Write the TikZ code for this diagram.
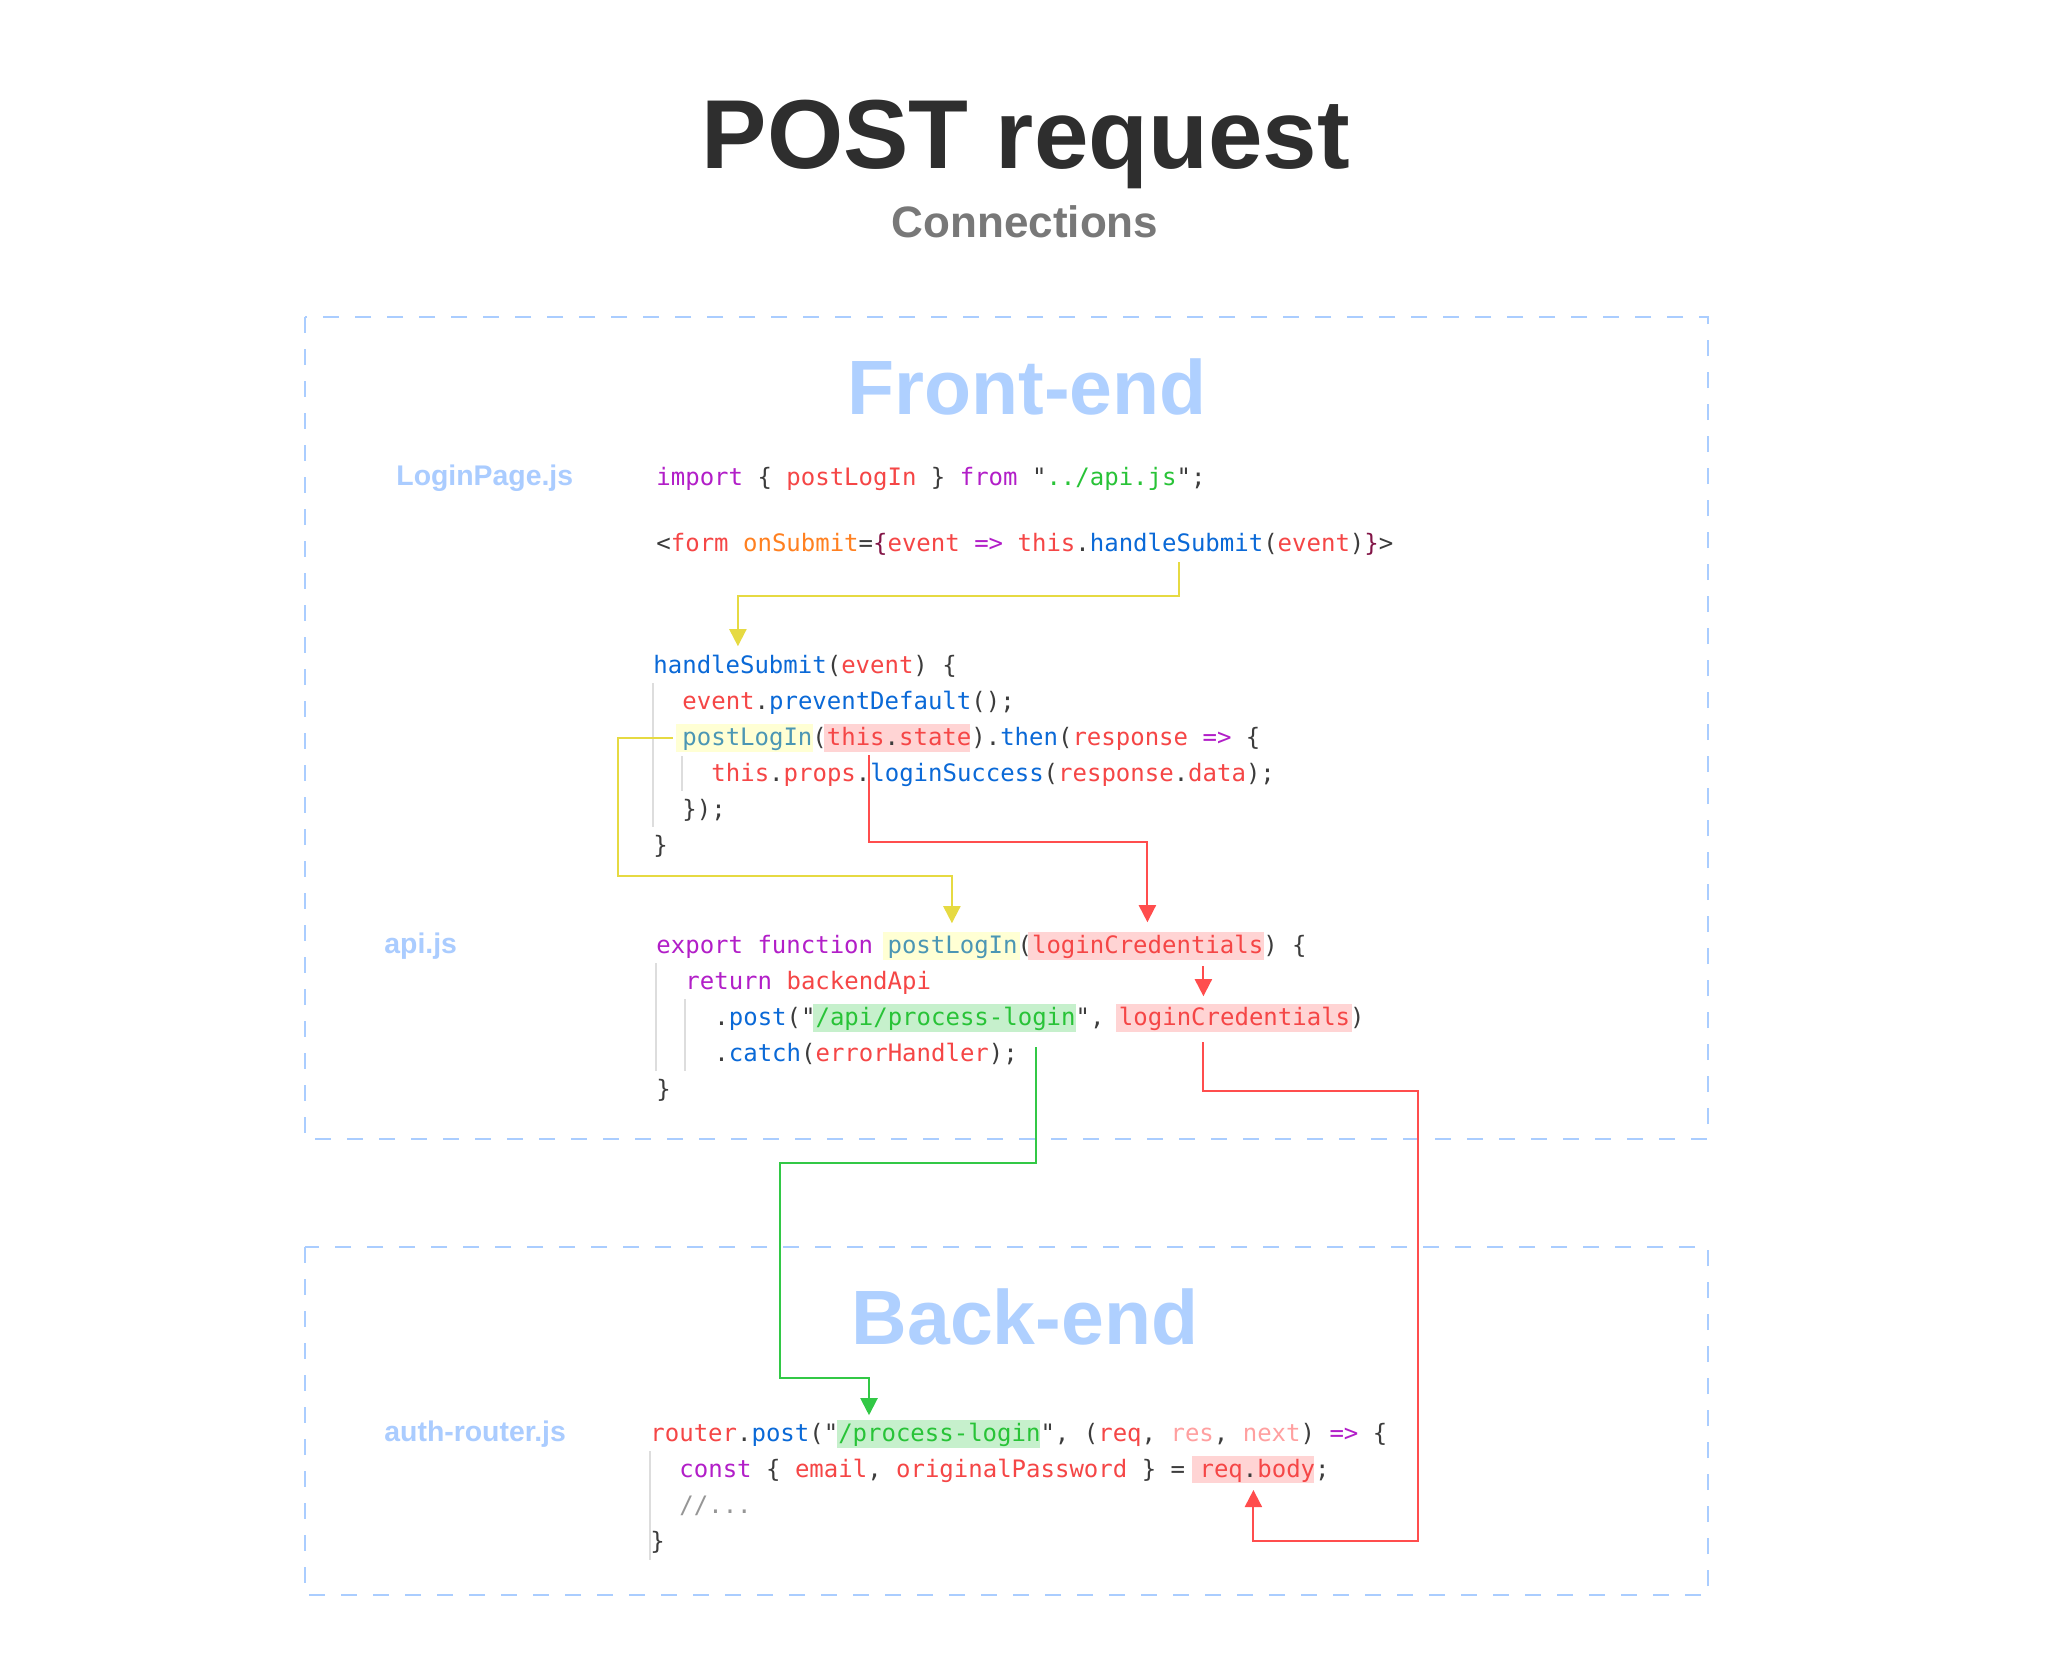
\documentclass[tikz,border=0pt]{standalone}
\usepackage{fontspec}
\setmainfont{Liberation Sans}
\setmonofont{DejaVu Sans Mono}
\usetikzlibrary{arrows.meta,calc}
\definecolor{kwc}{RGB}{178,30,200}
\definecolor{rdc}{RGB}{245,70,70}
\definecolor{blc}{RGB}{10,105,215}
\definecolor{grc}{RGB}{40,195,55}
\definecolor{orc}{RGB}{255,128,32}
\definecolor{tlc}{RGB}{75,150,180}
\definecolor{pnc}{RGB}{60,60,60}
\definecolor{mrc}{RGB}{130,20,70}
\definecolor{pkc}{RGB}{255,160,160}
\definecolor{cmc}{RGB}{150,150,150}
\definecolor{titlec}{RGB}{46,46,46}
\definecolor{subc}{RGB}{120,120,120}
\definecolor{secc}{RGB}{175,208,255}
\definecolor{labc}{RGB}{170,204,255}
\definecolor{framec}{RGB}{170,205,255}
\definecolor{guidec}{RGB}{221,221,221}
\definecolor{hlyc}{RGB}{255,255,212}
\definecolor{hlrc}{RGB}{255,212,212}
\definecolor{hlgc}{RGB}{198,240,204}
\definecolor{lnyel}{RGB}{230,218,66}
\definecolor{lnred}{RGB}{255,77,77}
\definecolor{lngrn}{RGB}{50,200,70}
\newcommand\xKw[1]{\textcolor{kwc}{#1}}
\newcommand\xRd[1]{\textcolor{rdc}{#1}}
\newcommand\xBl[1]{\textcolor{blc}{#1}}
\newcommand\xGr[1]{\textcolor{grc}{#1}}
\newcommand\xOr[1]{\textcolor{orc}{#1}}
\newcommand\xTl[1]{\textcolor{tlc}{#1}}
\newcommand\xMr[1]{\textcolor{mrc}{#1}}
\newcommand\xPk[1]{\textcolor{pkc}{#1}}
\newcommand\xCm[1]{\textcolor{cmc}{#1}}
\begin{document}
\frenchspacing
\begin{tikzpicture}[x=0.5pt,y=-0.5pt,
  code/.style={anchor=base west, inner sep=0, font=\ttfamily\fontsize{12}{14}\selectfont, text=pnc},
  lab/.style={anchor=base west, inner sep=0, font=\bfseries\fontsize{14.2}{16}\selectfont, text=labc},
  sect/.style={anchor=base, inner sep=0, font=\bfseries\fontsize{38.5}{40}\selectfont, text=secc},
  frame/.style={draw=framec, line width=0.9pt, dash pattern=on 8pt off 8pt},
  guide/.style={draw=guidec, line width=1pt},
  hl/.style={anchor=south west, inner sep=0, minimum height=14pt, draw=none},
  tok/.style={anchor=south west, inner sep=0, minimum height=14pt, draw=none},
  conn/.style={line width=1pt, -{Triangle[length=8.5pt,width=8.5pt]}}]
\fill[white] (0,0) rectangle (2048,1666);
\useasboundingbox (0,0) rectangle (2048,1666);

% titles
\node[anchor=base, inner sep=0, font=\bfseries\fontsize{49}{50}\selectfont, text=titlec] (title) at (1026,168) {POST request};
\node[anchor=base, inner sep=0, font=\bfseries\fontsize{22}{24}\selectfont, text=subc] (sub) at (1025,237) {Connections};

% frames
\draw[frame] (305,317) rectangle (1708,1139);
\draw[frame] (305,1247) rectangle (1708,1595);
\node[sect] (fe) at (1027,414) {Front-end};
\node[sect] (be) at (1025,1344) {Back-end};

% file labels
\node[lab] (labLogin) at (396,485) {LoginPage.js};
\node[lab] (labApi) at (384,953) {api.js};
\node[lab] (labRouter) at (384,1441) {auth-router.js};

% highlights
\node[hl, fill=hlyc, minimum width=68.5pt] (hlPost1) at (676,752) {};
\node[hl, fill=hlrc, minimum width=73pt] (hlState) at (824,752) {};
\node[hl, fill=hlyc, minimum width=68.5pt] (hlPost2) at (883,960) {};
\node[hl, fill=hlrc, minimum width=118pt] (hlCred1) at (1028,960) {};
\node[hl, fill=hlgc, minimum width=131.5pt] (hlApi) at (813,1032) {};
\node[hl, fill=hlrc, minimum width=118pt] (hlCred2) at (1116,1032) {};
\node[hl, fill=hlgc, minimum width=101.5pt] (hlProc) at (837,1448) {};
\node[hl, fill=hlrc, minimum width=61pt, minimum height=13.5pt] (hlBody) at (1192,1483) {};

% invisible tokens
\node[tok, minimum width=87pt] (tkHsForm) at (1090,559) {};
\node[tok, minimum width=86.5pt] (tkHsDef) at (653,680) {};

% indent guides
\draw[guide] (653,683) -- (653,827);
\draw[guide] (682,756) -- (682,791);
\draw[guide] (656,963) -- (656,1071);
\draw[guide] (685,999) -- (685,1071);
\draw[guide] (650,1451) -- (650,1560);

% LoginPage.js code
\node[code] (c1) at (656,485) {\xKw{import} \{ \xRd{postLogIn} \} \xKw{from} "\xGr{../api.js}";};
\node[code] (c2) at (656,551) {<\xRd{form} \xOr{onSubmit}=\xMr{\{}\xRd{event} \xKw{=>} \xRd{this}.\xBl{handleSubmit}(\xRd{event})\xMr{\}}>};
\node[code] (c3) at (653,673) {\xBl{handleSubmit}(\xRd{event}) \{};
\node[code] (c4) at (682,709) {\xRd{event}.\xBl{preventDefault}();};
\node[code] (c5) at (682,745) {\xTl{postLogIn}(\xRd{this}.\xRd{state}).\xBl{then}(\xRd{response} \xKw{=>} \{};
\node[code] (c6) at (711,781) {\xRd{this}.\xRd{props}.\xBl{loginSuccess}(\xRd{response}.\xRd{data});};
\node[code] (c7) at (682,817) {\});};
\node[code] (c8) at (653,853) {\}};

% api.js code
\node[code] (a1) at (656,953) {\xKw{export function} \xTl{postLogIn}(\xRd{loginCredentials}) \{};
\node[code] (a2) at (685,989) {\xKw{return} \xRd{backendApi}};
\node[code] (a3) at (714,1025) {.\xBl{post}("\xGr{/api/process-login}", \xRd{loginCredentials})};
\node[code] (a4) at (714,1061) {.\xBl{catch}(\xRd{errorHandler});};
\node[code] (a5) at (656,1097) {\}};

% auth-router.js code
\node[code] (b1) at (650,1441) {\xRd{router}.\xBl{post}("\xGr{/process-login}", (\xRd{req}, \xPk{res}, \xPk{next}) \xKw{=>} \{};
\node[code] (b2) at (679,1477) {\xKw{const} \{ \xRd{email}, \xRd{originalPassword} \} = \xRd{req}.\xRd{body};};
\node[code] (b3) at (679,1513) {\xCm{//...}};
\node[code] (b4) at (650,1549) {\}};

% connectors
\draw[conn, color=lnyel] ($(tkHsForm.south)+(2,3)$) -- ++(0,34) -| ($(tkHsDef.north)+(-2,-5)$);
\draw[conn, color=lnyel] ($(hlPost1.west)+(-3,0)$) -- ++(-55,0) -- ++(0,138) -| ($(hlPost2.north)+(0,-8)$);
\draw[conn, color=lnred] ($(hlState.south)+(-28,3)$) -- ++(0,87) -| ($(hlCred1.north)+(1,-9)$);
\draw[conn, color=lnred] ($(hlCred1.south)+(57,6)$) -- ($(hlCred2.north)+(-31,-7)$);
\draw[conn, color=lngrn] ($(hlApi.south east)+(-41,15)$) -- ++(0,116) -- ++(-256,0) -- ++(0,215) -| ($(hlProc.north west)+(32,-4)$);
\draw[conn, color=lnred] ($(hlCred2.south)+(-31,10)$) -- ++(0,49) -- ++(215,0) -- ++(0,450) -| ($(hlBody.south)+(0,7)$);
\end{tikzpicture}
\end{document}
